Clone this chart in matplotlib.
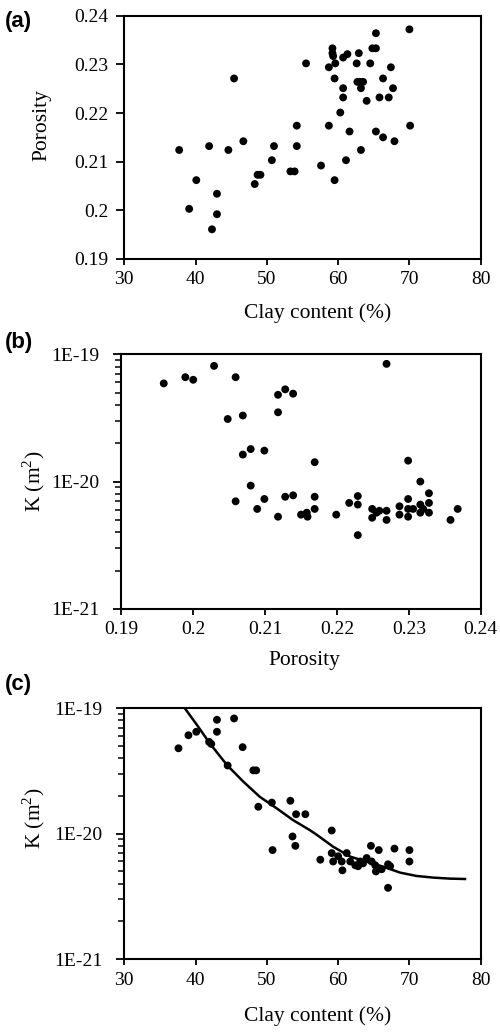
import numpy as np
import matplotlib.pyplot as plt
from matplotlib.ticker import FixedLocator, LogLocator, NullFormatter

plt.rcParams['font.family'] = ['Liberation Serif', 'DejaVu Serif']
plt.rcParams['mathtext.fontset'] = 'custom'
plt.rcParams['mathtext.rm'] = 'Liberation Serif'

# (a) porosity vs clay content
clay_a = [37.7, 39.1, 40.1, 41.9, 42.3, 43.0, 43.0, 44.6, 45.4, 46.7, 48.3, 48.7, 49.1,
          50.7, 51.0, 53.3, 53.9, 54.2, 54.2, 55.5, 57.6, 58.7, 58.7, 59.2, 59.2, 59.3,
          59.6, 59.5, 59.5, 60.3, 60.7, 60.7, 60.7, 61.1, 61.3, 61.6, 62.6, 62.7, 62.9,
          63.1, 63.2, 63.2, 63.5, 64.0, 64.5, 64.8, 65.3, 65.3, 65.3, 65.8, 66.3, 66.3,
          67.1, 67.4, 67.7, 67.9, 70.0, 70.1]
por_a = [0.2124, 0.2003, 0.2062, 0.2132, 0.1961, 0.2034, 0.1992, 0.2124, 0.2271, 0.2142,
         0.2054, 0.2073, 0.2073, 0.2103, 0.2132, 0.2080, 0.2080, 0.2174, 0.2132, 0.2302,
         0.2092, 0.2174, 0.2294, 0.2333, 0.2323, 0.2317, 0.2302, 0.2271, 0.2062, 0.2201,
         0.2251, 0.2232, 0.2314, 0.2103, 0.2321, 0.2162, 0.2302, 0.2264, 0.2323, 0.2264,
         0.2251, 0.2124, 0.2264, 0.2225, 0.2302, 0.2333, 0.2364, 0.2333, 0.2162, 0.2232,
         0.2271, 0.2150, 0.2232, 0.2294, 0.2251, 0.2142, 0.2372, 0.2174]

# (b) permeability vs porosity
por_b = [0.1959, 0.1989, 0.2000, 0.2029, 0.2048, 0.2059, 0.2059, 0.2069, 0.2069, 0.2080,
         0.2080, 0.2089, 0.2099, 0.2099, 0.2118, 0.2118, 0.2118, 0.2128, 0.2128, 0.2139,
         0.2139, 0.2150, 0.2158, 0.2159, 0.2169, 0.2169, 0.2169, 0.2199, 0.2217, 0.2229,
         0.2229, 0.2229, 0.2249, 0.2249, 0.2255, 0.2259, 0.2269, 0.2269, 0.2269, 0.2287,
         0.2287, 0.2299, 0.2299, 0.2299, 0.2299, 0.2306, 0.2316, 0.2316, 0.2316, 0.2320,
         0.2328, 0.2328, 0.2328, 0.2358, 0.2368]
k_b = [5.9e-20, 6.6e-20, 6.3e-20, 8.1e-20, 3.1e-20, 6.6e-20, 7.0e-21, 3.3e-20, 1.63e-20, 1.8e-20,
       9.3e-21, 6.1e-21, 1.75e-20, 7.3e-21, 4.8e-20, 3.5e-20, 5.3e-21, 5.3e-20, 7.6e-21, 4.9e-20,
       7.8e-21, 5.5e-21, 5.7e-21, 5.3e-21, 1.42e-20, 7.6e-21, 6.1e-21, 5.5e-21, 6.8e-21, 7.7e-21,
       6.6e-21, 3.8e-21, 6.1e-21, 5.2e-21, 5.7e-21, 5.9e-21, 8.4e-20, 5.9e-21, 5.0e-21, 6.4e-21,
       5.5e-21, 1.46e-20, 7.3e-21, 6.1e-21, 5.3e-21, 6.1e-21, 1.0e-20, 6.6e-21, 5.7e-21, 6.1e-21,
       8.1e-21, 6.8e-21, 5.7e-21, 5.0e-21, 6.1e-21]

# (c) permeability vs clay content
clay_c = [37.6, 39.0, 40.1, 41.9, 42.2, 43.0, 43.0, 45.4, 44.5, 46.6, 48.1, 48.5, 48.8,
          50.7, 53.3, 54.1, 55.4, 53.6, 54.0, 50.8, 59.1, 57.5, 59.1, 59.3, 60.0, 60.6,
          60.5, 61.2, 61.7, 62.4, 62.8, 63.1, 63.5, 64.0, 64.6, 64.7, 65.2, 65.3, 65.7,
          66.1, 67.0, 67.3, 67.0, 67.9, 70.0, 70.0]
k_c = [4.8e-20, 6.1e-20, 6.5e-20, 5.4e-20, 5.2e-20, 8.1e-20, 6.5e-20, 8.3e-20, 3.5e-20, 4.9e-20,
       3.2e-20, 3.2e-20, 1.64e-20, 1.77e-20, 1.83e-20, 1.43e-20, 1.43e-20, 9.5e-21, 8.0e-21, 7.4e-21,
       1.06e-20, 6.2e-21, 7.0e-21, 6.0e-21, 6.6e-21, 5.1e-21, 6.0e-21, 7.0e-21, 6.0e-21, 5.6e-21,
       5.5e-21, 6.0e-21, 5.8e-21, 6.4e-21, 8.0e-21, 6.0e-21, 5.6e-21, 5.0e-21, 7.4e-21, 5.2e-21,
       5.7e-21, 5.5e-21, 3.7e-21, 7.6e-21, 7.4e-21, 6.0e-21]

# fitted trend line
fit_clay = [38.5, 40.2, 42.0, 44.4, 46.7, 49.0, 51.4, 53.7, 56.0, 57.0, 59.3, 61.7, 64.0,
            66.3, 68.7, 71.0, 73.4, 75.7, 77.8]
fit_k = [1.0e-19, 7.36e-20, 5.25e-20, 3.53e-20, 2.60e-20, 1.97e-20, 1.59e-20, 1.28e-20, 1.07e-20,
         9.8e-21, 7.87e-21, 6.56e-21, 5.98e-21, 5.46e-21, 4.89e-21, 4.6e-21, 4.46e-21, 4.38e-21, 4.35e-21]

log_ticks = [1e-21, 1e-20, 1e-19]
log_labels = ['1E-21', '1E-20', '1E-19']
por_ticks = [0.19, 0.2, 0.21, 0.22, 0.23, 0.24]
por_labels = ['0.19', '0.2', '0.21', '0.22', '0.23', '0.24']
clay_ticks = [30, 40, 50, 60, 70, 80]

W, H = 500, 1033
fig = plt.figure(figsize=(W / 100, H / 100), dpi=100)
ax_a = fig.add_axes([0.2486, 0.7493, 0.7128, 0.2355])
ax_b = fig.add_axes([0.2427, 0.4105, 0.7187, 0.2466])
ax_c = fig.add_axes([0.2486, 0.0716, 0.7128, 0.2427])

tfs = 14
lfs = 15.5
ms = 32

ax_a.scatter(clay_a, por_a, s=ms, c='black', edgecolors='none')
ax_a.set_xlim(30, 80)
ax_a.set_ylim(0.19, 0.24)
ax_a.set_xticks(clay_ticks)
ax_a.set_yticks(por_ticks)
ax_a.set_yticklabels(por_labels)

ax_b.scatter(por_b, k_b, s=ms, c='black', edgecolors='none')
ax_b.set_yscale('log')
ax_b.set_xlim(0.19, 0.24)
ax_b.set_ylim(1e-21, 1e-19)
ax_b.set_xticks(por_ticks)
ax_b.set_xticklabels(por_labels)

ax_c.plot(fit_clay, fit_k, color='black', lw=1.8, zorder=1)
ax_c.scatter(clay_c, k_c, s=ms, c='black', edgecolors='none', zorder=2)
ax_c.set_yscale('log')
ax_c.set_xlim(30, 80)
ax_c.set_ylim(1e-21, 1e-19)
ax_c.set_xticks(clay_ticks)

for ax in (ax_a, ax_b, ax_c):
    for sp in ax.spines.values():
        sp.set_linewidth(1.5)
    ax.tick_params(which='major', labelsize=tfs, width=1.3, direction='out')
    ax.tick_params(axis='x', which='major', length=4, pad=5)
    ax.tick_params(axis='y', which='major', length=5.5, pad=6)

for ax in (ax_b, ax_c):
    ax.yaxis.set_major_locator(FixedLocator(log_ticks))
    ax.set_yticklabels(log_labels)
    ax.yaxis.set_minor_locator(LogLocator(base=10, subs=np.arange(2, 10)))
    ax.yaxis.set_minor_formatter(NullFormatter())
    ax.tick_params(axis='y', which='minor', length=4, width=1.1, direction='out')
    ax.tick_params(axis='y', which='major', pad=10)

# axis titles placed where they sit in the reference
def px_text(x, y, s, **kw):
    fig.text(x / W, 1 - y / H, s, fontsize=lfs, ha='center', va='center', **kw)

px_text(318, 313, 'Clay content (%)')
px_text(42, 125, 'Porosity', rotation=90)
px_text(304, 660, 'Porosity')
px_text(34, 481, r'K (m$^2$)', rotation=90)
px_text(318, 1016, 'Clay content (%)')
px_text(34, 818, r'K (m$^2$)', rotation=90)

for lab, y in (('(a)', 11), ('(b)', 332), ('(c)', 674)):
    fig.text(0.01, 1 - y / H, lab, fontsize=16, fontweight='bold',
             family=['Liberation Sans', 'DejaVu Sans'], va='top')

fig.savefig('out.png', dpi=100)
